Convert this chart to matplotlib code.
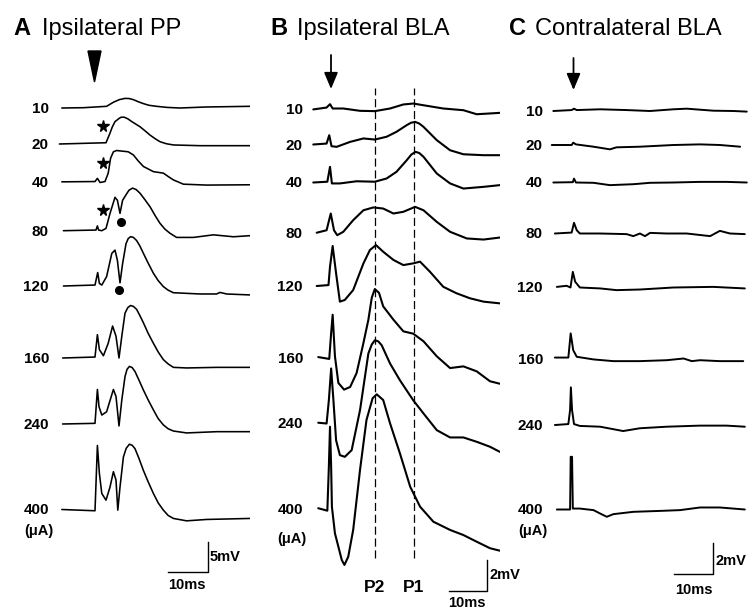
import matplotlib
matplotlib.use("Agg")
import matplotlib.pyplot as plt
import numpy as np
from matplotlib.patches import Polygon, FancyArrowPatch

plt.rcParams['font.family'] = ['Liberation Sans', 'DejaVu Sans']

W, H = 750, 610

# stimulus intensities (uA), one sweep each
currents = [10, 20, 40, 80, 120, 160, 240, 400]

# A  ipsilateral PP : (ms from stimulus, mV from baseline)
pp_10 = [(-8.8, 0.0), (-3.4, 0.05), (2.4, 0.28), (3.2, 0.6), (4.1, 0.96), (5.6, 1.4), (7.0, 1.6),
         (8.0, 1.58), (9.1, 1.39), (10.3, 1.05), (11.6, 0.73), (13.0, 0.45), (14.9, 0.28), (17.5, 0.1),
         (20.75, 0.0), (27.4, 0.17), (38.25, 0.28)]
pp_20 = [(-9.4, 0.0), (2.25, 0.21), (3.25, 1.81), (3.8, 2.8), (4.5, 3.73), (5.6, 4.3), (6.0, 4.45),
         (6.75, 4.48), (7.7, 4.2), (8.7, 3.73), (10.75, 2.88), (12.0, 2.2), (13.25, 1.49), (14.5, 0.9),
         (15.75, 0.38), (17.3, 0.05), (19.1, -0.16), (25.75, -0.28), (38.25, -0.28)]
pp_40 = [(-8.8, 0.11), (-0.5, 0.16), (0.1, 0.69), (0.75, 0.0), (2.0, 0.16), (2.8, 1.55), (3.4, 4.05),
         (4.1, 5.12), (4.9, 5.33), (7.8, 5.12), (9.1, 4.59), (10.3, 3.6), (11.6, 2.67), (14.1, 1.81),
         (16.6, 1.56), (17.8, 1.0), (19.1, 0.43), (21.6, -0.28), (27.4, -0.43), (38.25, -0.38)]
pp_80 = [(-8.4, 0.05), (-0.25, 0.16), (0.1, 0.85), (0.4, 0.16), (1.2, 0.05), (2.25, 0.43), (3.25, 2.93),
         (4.5, 5.61), (5.1, 5.12), (5.75, 2.94), (6.4, 5.12), (7.4, 6.19), (8.0, 6.8), (8.9, 7.15),
         (9.8, 6.9), (10.75, 6.3), (12.0, 5.2), (13.25, 4.05), (14.5, 2.6), (15.75, 1.28), (17.0, 0.3),
         (18.25, -0.38), (19.9, -1.07), (24.1, -1.07), (29.1, -0.64), (34.1, -0.96), (38.25, -0.78)]
pp_120 = [(-8.4, 0.0), (-0.5, 0.16), (0.17, 2.24), (0.6, 0.43), (1.2, 0.16), (2.4, 1.56), (3.7, 5.44),
          (4.5, 5.98), (5.1, 4.27), (5.75, 0.53), (6.4, 3.73), (7.25, 7.04), (7.8, 7.9), (8.4, 8.22),
          (9.1, 8.1), (9.9, 7.58), (10.7, 6.7), (11.6, 5.44), (12.8, 3.8), (14.1, 2.13), (15.3, 0.9),
          (16.6, -0.11), (17.8, -0.7), (19.1, -1.12), (25.75, -1.33), (29.9, -1.33), (30.75, -1.07),
          (32.4, -1.33), (38.25, -1.49)]
pp_160 = [(-8.6, 0.0), (-0.5, 0.16), (0.1, 3.89), (0.6, 1.39), (1.6, 0.38), (2.8, 2.45), (3.9, 5.33),
          (4.75, 3.63), (5.5, 0.0), (6.2, 3.63), (7.0, 7.47), (7.7, 8.4), (8.4, 8.75), (9.1, 8.6),
          (9.9, 8.11), (10.7, 7.1), (11.6, 5.87), (12.8, 4.1), (14.1, 2.45), (15.3, 1.0), (16.6, -0.28),
          (17.8, -1.0), (19.1, -1.56), (22.4, -1.66), (29.9, -1.56), (38.25, -1.56)]
pp_240 = [(-8.6, 0.0), (-0.5, 0.11), (0.1, 5.76), (0.5, 2.88), (1.2, 1.49), (2.4, 2.03), (4.1, 5.76),
          (4.75, 4.59), (5.5, -0.32), (6.2, 4.0), (7.0, 7.9), (7.5, 9.1), (8.1, 9.6), (8.8, 9.4),
          (9.5, 8.75), (10.5, 7.3), (11.6, 5.66), (12.8, 4.0), (14.1, 2.35), (15.3, 0.9), (16.6, -0.16),
          (17.8, -0.8), (19.1, -1.17), (22.4, -1.49), (29.9, -1.28), (38.25, -1.28)]
pp_400 = [(-8.8, 0.0), (-0.5, -0.21), (0.1, 10.67), (0.6, 5.98), (1.2, 2.67), (2.25, 1.56), (3.25, 3.73),
          (4.1, 6.3), (4.75, 4.91), (5.2, -0.11), (5.75, 3.73), (6.6, 8.75), (7.3, 10.2), (8.1, 10.88),
          (8.8, 10.7), (9.5, 10.14), (10.5, 8.5), (11.6, 6.51), (12.8, 4.6), (14.1, 2.67), (15.3, 1.1),
          (16.6, -0.11), (17.8, -1.0), (19.1, -1.49), (22.4, -1.89), (27.4, -1.66), (38.25, -1.49)]

# B  ipsilateral BLA
bla_10 = [(-4.4, -0.06), (-0.9, 0.06), (0.0, 0.28), (0.7, 0.0), (3.5, 0.0), (7.9, -0.15), (11.8, -0.17),
          (15.8, 0.0), (19.3, 0.26), (21.9, 0.32), (24.6, 0.21), (29.8, 0.0), (35.1, -0.11),
          (38.6, -0.37), (42.1, -0.32), (44.7, -0.28)]
bla_20 = [(-4.4, 0.0), (-0.9, 0.06), (-0.2, 0.6), (0.4, -0.11), (1.75, -0.15), (5.3, 0.17), (8.8, 0.39),
          (11.8, 0.32), (14.9, 0.5), (17.5, 0.82), (20.2, 1.25), (21.3, 1.4), (22.4, 1.46), (23.5, 1.35),
          (24.6, 1.14), (28.1, 0.28), (31.6, -0.37), (35.1, -0.63), (40.4, -0.69), (44.7, -0.69)]
bla_40 = [(-4.4, 0.0), (-0.7, 0.05), (0.0, 1.01), (0.5, -0.06), (2.6, -0.06), (7.0, 0.08), (11.8, 0.05),
          (14.9, 0.26), (17.5, 0.69), (20.2, 1.44), (21.4, 1.8), (22.5, 1.98), (23.5, 1.9), (24.6, 1.66),
          (28.1, 0.58), (31.6, -0.06), (35.1, -0.39), (40.4, -0.28), (44.7, -0.17)]
bla_80 = [(-3.5, 0.05), (-0.9, 0.21), (0.2, 1.29), (1.05, 0.21), (1.9, -0.11), (3.5, 0.11), (6.1, 0.86),
          (8.8, 1.5), (11.4, 1.68), (14.0, 1.61), (16.7, 1.29), (19.3, 1.4), (22.4, 1.72), (24.6, 1.5),
          (28.1, 0.75), (31.6, 0.11), (36.0, -0.32), (40.4, -0.39), (44.7, -0.26)]
bla_120 = [(-3.5, 0.0), (-0.4, 0.06), (0.0, 1.24), (0.7, 2.58), (1.6, 0.82), (2.6, -1.01), (3.9, -0.9),
           (6.1, -0.26), (8.8, 1.46), (10.5, 2.32), (12.1, 2.64), (14.0, 2.21), (16.7, 1.68), (19.3, 1.35),
           (21.9, 1.46), (23.7, 1.57), (26.3, 0.92), (29.8, -0.05), (33.3, -0.47), (36.8, -0.79),
           (40.4, -1.01), (44.7, -1.12)]
bla_160 = [(-3.1, 0.06), (-0.2, -0.06), (0.3, 1.61), (0.7, 2.79), (1.3, 0.11), (2.2, -1.61), (3.7, -2.04),
           (5.3, -1.87), (7.0, -0.97), (8.8, 0.97), (10.1, 2.47), (11.0, 3.9), (11.8, 4.45), (12.9, 4.2),
           (14.0, 3.33), (16.7, 2.47), (19.3, 1.72), (21.9, 1.57), (24.6, 1.08), (28.1, 0.11),
           (31.6, -0.65), (35.1, -0.54), (38.6, -0.86), (42.1, -1.5), (44.7, -1.66)]
bla_240 = [(-3.1, 0.05), (-0.9, 0.0), (-0.3, 1.5), (0.3, 3.55), (0.9, 1.5), (1.6, -1.08), (2.6, -2.04),
           (3.9, -2.15), (5.7, -1.72), (7.9, 0.86), (10.1, 4.52), (11.0, 5.1), (11.8, 5.37), (12.7, 5.3),
           (13.6, 5.05), (15.8, 3.87), (18.4, 2.79), (21.9, 1.5), (24.6, 0.65), (28.1, -0.43),
           (31.6, -0.9), (35.1, -0.9), (38.6, -1.18), (42.1, -1.5), (44.7, -1.83)]
bla_400 = [(-3.1, 0.05), (-0.7, -0.11), (-0.3, 2.73), (0.0, 5.31), (0.3, 2.73), (0.5, 0.15), (1.3, -1.57),
           (2.2, -2.43), (3.1, -3.29), (3.8, -3.61), (4.8, -3.08), (6.1, -1.35), (7.9, 2.52), (9.6, 5.74),
           (11.2, 7.14), (12.3, 7.4), (14.0, 7.03), (15.8, 5.53), (18.4, 3.59), (21.1, 1.44), (23.7, 0.15),
           (27.2, -0.82), (31.6, -1.35), (35.1, -1.68), (38.6, -2.11), (42.1, -2.53), (44.7, -2.69)]

# C  contralateral BLA
con_10 = [(-5.3, 0.0), (-0.6, 0.06), (0.0, 0.15), (0.7, 0.06), (6.7, 0.11), (13.5, 0.06), (19.5, 0.0),
          (25.5, 0.11), (28.9, 0.15), (35.7, 0.02), (40.9, 0.0), (44.3, -0.04)]
con_20 = [(-5.7, 0.0), (-0.6, 0.0), (-0.2, 0.15), (0.5, 0.04), (5.0, -0.11), (9.2, -0.28), (10.9, -0.15),
          (16.9, -0.11), (25.5, 0.0), (32.3, 0.04), (37.4, 0.0), (42.6, -0.11)]
con_40 = [(-5.3, 0.0), (-0.3, 0.02), (0.0, 0.25), (0.5, 0.0), (5.0, -0.02), (9.2, -0.17), (15.2, -0.11),
          (19.5, -0.02), (25.5, 0.0), (32.3, 0.04), (39.1, 0.04), (44.3, 0.0)]
con_80 = [(-4.9, 0.0), (-0.6, 0.06), (0.0, 0.69), (0.7, 0.21), (1.5, 0.0), (6.7, 0.0), (13.5, -0.04),
          (15.2, -0.17), (16.9, 0.0), (18.2, -0.17), (19.5, 0.04), (23.8, 0.0), (28.9, 0.0),
          (34.9, -0.17), (37.4, 0.17), (40.0, 0.0), (43.8, -0.04)]
con_120 = [(-4.4, 0.04), (-1.9, 0.11), (-0.9, 0.0), (-0.3, 1.01), (0.3, 0.37), (1.5, 0.0), (6.7, -0.06),
           (10.9, -0.17), (16.9, -0.13), (25.5, 0.0), (35.7, 0.04), (43.8, -0.06)]
con_160 = [(-4.9, 0.06), (-1.45, 0.06), (-0.85, 1.62), (-0.2, 0.54), (0.7, 0.11), (5.0, -0.06),
           (10.1, -0.17), (16.9, -0.17), (23.8, -0.11), (28.1, 0.0), (30.2, -0.17), (32.3, -0.11),
           (37.4, -0.17), (43.4, -0.17)]
con_240 = [(-4.9, 0.0), (-1.45, 0.06), (-1.0, 0.97), (-0.8, 2.43), (-0.5, 0.97), (0.0, 0.06), (1.5, -0.06),
           (6.7, -0.11), (12.6, -0.39), (16.9, -0.21), (23.8, -0.11), (32.3, -0.04), (39.1, -0.04),
           (43.8, -0.11)]
con_400 = [(-4.4, 0.0), (-1.0, 0.0), (-0.85, 3.4), (-0.5, 3.4), (-0.3, 0.06), (1.5, 0.06), (5.0, -0.04),
           (6.7, -0.26), (8.4, -0.47), (10.1, -0.3), (15.2, -0.15), (22.1, -0.09), (27.2, -0.04),
           (32.3, 0.13), (37.4, 0.13), (43.8, 0.0)]

pp_traces = [pp_10, pp_20, pp_40, pp_80, pp_120, pp_160, pp_240, pp_400]
bla_traces = [bla_10, bla_20, bla_40, bla_80, bla_120, bla_160, bla_240, bla_400]
con_traces = [con_10, con_20, con_40, con_80, con_120, con_160, con_240, con_400]

# peak latencies marked in B (ms)
p_latency = [11.8, 22.1]
p_names = ["P2", "P1"]

# sweep baselines in pixels (layout)
rows_a = [108, 144, 182.5, 231, 286, 358, 424, 509.5]
rows_b = [108.5, 144.5, 182.5, 233.5, 286, 358, 423.5, 509]
rows_c = [111, 145, 182.5, 233.5, 287.5, 358.5, 425, 509.5]

fig = plt.figure(figsize=(W / 100, H / 100), dpi=100)


def fx(x):
    return x / W


def fy(y):
    return 1 - y / H


def panel(left, right, t0, px_ms, px_mv):
    ax = fig.add_axes([left / W, 0, (right - left) / W, 1])
    ax.set_xlim((left - t0) / px_ms, (right - t0) / px_ms)
    ax.set_ylim(-H / px_mv, 0)
    ax.axis('off')
    return ax


def draw_traces(ax, traces, rows, px_mv, lw):
    for tr, row in zip(traces, rows):
        t, v = np.array(tr).T
        ax.plot(t, v - row / px_mv, color='black', lw=lw,
                solid_joinstyle='round', solid_capstyle='round')


def row_labels(rows, xr, ua_x, ua_y):
    for cur, row in zip(currents, rows):
        fig.text(fx(xr), fy(row + 5), str(cur), ha='right', va='baseline',
                 fontsize=11, fontweight='bold')
    fig.text(fx(ua_x), fy(ua_y + 4.5), "(\u03bcA)", ha='center', va='baseline',
             fontsize=10.5, fontweight='bold')


def scale_bar(ax, t_end, y_px, px_mv, ms, mv):
    y = -y_px / px_mv
    ax.plot([t_end - ms, t_end, t_end], [y, y, y + mv], color='black', lw=1.0)


def title(xl, xt, letter, text):
    fig.text(fx(xl), fy(35), letter, fontsize=17, fontweight='bold', va='baseline')
    fig.text(fx(xt), fy(35), text, fontsize=17, va='baseline')


def down_arrow(x, y0, y1):
    fig.add_artist(FancyArrowPatch((fx(x), fy(y0)), (fx(x), fy(y1)), transform=fig.transFigure,
                                   arrowstyle='-|>,head_length=1.0,head_width=0.42',
                                   mutation_scale=10, color='black', lw=1.3,
                                   shrinkA=0, shrinkB=0))


# ---- A
ax_a = panel(0, 250, 97, 4.0, 6.0)
draw_traces(ax_a, pp_traces, rows_a, 6.0, 1.15)
row_labels(rows_a, 49, 39, 530)
title(13, 42, "A", "Ipsilateral PP")
fig.add_artist(Polygon([(fx(88), fy(51)), (fx(101), fy(51)), (fx(94.5), fy(82))],
                       closed=True, transform=fig.transFigure, color='black'))
for i, dv in zip([1, 2, 3], [3.0, 3.3, 3.5]):
    ax_a.plot(1.6, dv - rows_a[i] / 6.0, marker='*', ms=8.5, color='black')
for i, t, dv in zip([3, 4], [5.9, 5.6], [1.5, -0.7]):
    ax_a.plot(t, dv - rows_a[i] / 6.0, marker='o', ms=5.5, color='black')
scale_bar(ax_a, 27.7, 571.7, 6.0, 10, 5)
fig.text(fx(210), fy(557), "5mV", va='center', fontsize=10.5, fontweight='bold')
fig.text(fx(187), fy(585), "10ms", ha='center', va='center', fontsize=10.5, fontweight='bold')

# ---- B
ax_b = panel(250, 500, 330, 3.8, 15.5)
draw_traces(ax_b, bla_traces, rows_b, 15.5, 1.5)
row_labels(rows_b, 303, 292, 538)
title(270, 297, "B", "Ipsilateral BLA")
down_arrow(331, 55, 89)
ax_b.vlines(p_latency, -558 / 15.5, -88 / 15.5, colors='black', lw=0.9,
            linestyles=(0, (6.5, 3)))
for lat, name in zip(p_latency, p_names):
    ax_b.text(lat, -587 / 15.5, name, ha='center', va='center', fontsize=12.5, fontweight='bold')
scale_bar(ax_b, 41.2, 591, 15.5, 10, 2)
fig.text(fx(489), fy(575), "2mV", va='center', fontsize=10.5, fontweight='bold')
fig.text(fx(467), fy(603), "10ms", ha='center', va='center', fontsize=10.5, fontweight='bold')

# ---- C
ax_c = panel(500, 750, 574, 3.9, 15.5)
draw_traces(ax_c, con_traces, rows_c, 15.5, 1.4)
row_labels(rows_c, 543, 533, 530)
title(509, 535, "C", "Contralateral BLA")
down_arrow(573.5, 58, 90)
scale_bar(ax_c, 35.7, 574.3, 15.5, 10, 2)
fig.text(fx(716), fy(561), "2mV", va='center', fontsize=10.5, fontweight='bold')
fig.text(fx(694), fy(590), "10ms", ha='center', va='center', fontsize=10.5, fontweight='bold')

fig.savefig("out.png", dpi=100, facecolor='white')
